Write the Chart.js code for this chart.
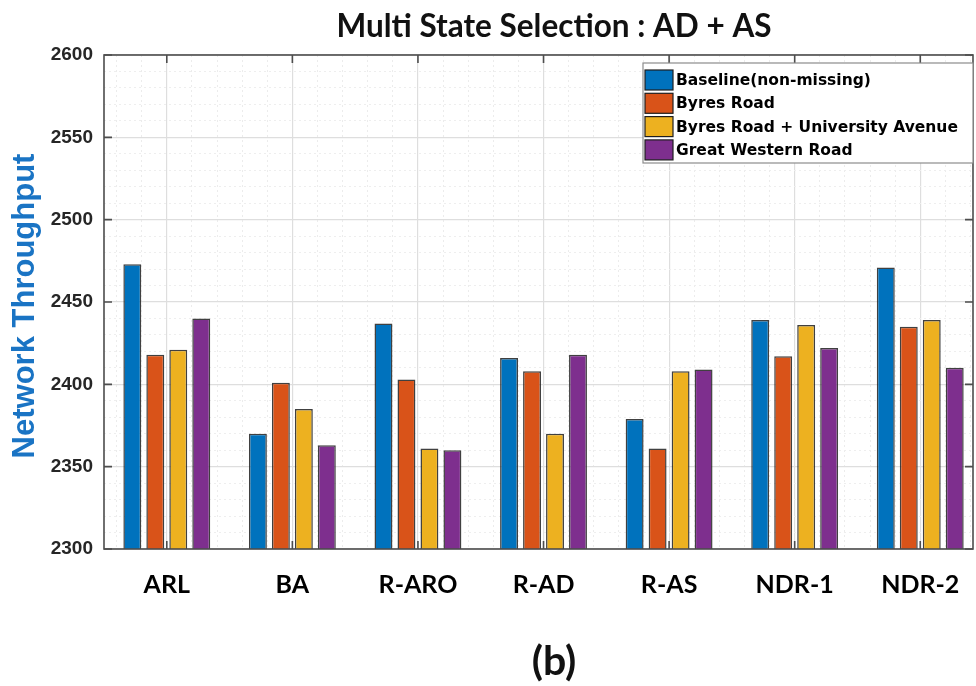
<!DOCTYPE html>
<html>
<head>
<meta charset="utf-8">
<script src="https://cdn.jsdelivr.net/npm/chart.js@4.4.1/dist/chart.umd.min.js"></script>
<style>
  html, body { margin: 0; padding: 0; background: #ffffff; }
  #wrap { width: 976px; height: 686px; position: relative; }
</style>
</head>
<body>
<div id="wrap"><canvas id="chart" width="976" height="686"></canvas></div>
<script>
// Network throughput per method, one array per scenario
const categories = ['ARL', 'BA', 'R-ARO', 'R-AD', 'R-AS', 'NDR-1', 'NDR-2'];
const seriesNames = ['Baseline(non-missing)', 'Byres Road', 'Byres Road + University Avenue', 'Great Western Road'];
const baseline        = [2473, 2370, 2437, 2416, 2379, 2439, 2471];
const byresRoad       = [2418, 2401, 2403, 2408, 2361, 2417, 2435];
const byresUniversity = [2421, 2385, 2361, 2370, 2408, 2436, 2439];
const greatWestern    = [2440, 2363, 2360, 2418, 2409, 2422, 2410];
const yTickLabels = [2300, 2350, 2400, 2450, 2500, 2550, 2600];

const titleText = 'Multi State Selection : AD + AS';
const yTitleText = 'Network Throughput';
const panelText = '(b)';

const seriesColors = ['#0072BD', '#D95319', '#EDB120', '#7E2F8E'];
const yMin = yTickLabels[0], yMax = yTickLabels[yTickLabels.length - 1];
const xMin = 0.5, xMax = 7.42;

const seriesValues = [baseline, byresRoad, byresUniversity, greatWestern];
const datasets = seriesValues.map((vals, s) => ({
  label: seriesNames[s],
  data: vals.map((v, i) => ({ x: i + 1, y: v })),
  backgroundColor: seriesColors[s],
  borderColor: 'rgba(30,30,30,0.85)',
  borderWidth: 1.5,
  borderSkipped: false,
  categoryPercentage: 0.732,
  barPercentage: 0.78
}));

const isMajorY = v => Math.round(v) % 50 === 0;

// keep the plot box flush with the canvas edges chosen by the layout padding
function noEdgePadding(scale) {
  scale.paddingLeft = 0;
  scale.paddingRight = 0;
}

// Frame, inward tick marks, legend box and the free-standing texts
const decorations = {
  id: 'decorations',
  afterDatasetsDraw(chart) {
    const { ctx, chartArea: a, scales } = chart;
    ctx.save();
    // axes box
    ctx.strokeStyle = '#4d4d4d';
    ctx.lineWidth = 1.6;
    ctx.strokeRect(a.left, a.top, a.right - a.left, a.bottom - a.top);
    // inward ticks
    ctx.beginPath();
    yTickLabels.forEach(v => {
      const y = scales.y.getPixelForValue(v);
      ctx.moveTo(a.left, y); ctx.lineTo(a.left + 8, y);
      ctx.moveTo(a.right, y); ctx.lineTo(a.right - 8, y);
    });
    categories.forEach((c, i) => {
      const x = scales.x.getPixelForValue(i + 1);
      ctx.moveTo(x, a.top); ctx.lineTo(x, a.top + 8);
      ctx.moveTo(x, a.bottom); ctx.lineTo(x, a.bottom - 8);
    });
    ctx.stroke();

    // legend
    const lw = 330, lh = 100;
    const lx = a.right - lw, ly = a.top + 8;
    ctx.fillStyle = '#ffffff';
    ctx.fillRect(lx, ly, lw, lh);
    ctx.strokeStyle = '#8c8c8c';
    ctx.lineWidth = 1.2;
    ctx.strokeRect(lx, ly, lw, lh);
    ctx.font = 'bold 15.5px "DejaVu Sans", sans-serif';
    ctx.textBaseline = 'middle';
    ctx.textAlign = 'left';
    chart.data.datasets.forEach((ds, i) => {
      const cy = ly + 17 + i * 23.3;
      ctx.fillStyle = ds.backgroundColor;
      ctx.fillRect(lx + 2, cy - 10, 28, 20);
      ctx.strokeStyle = '#1e1e1e';
      ctx.lineWidth = 1.2;
      ctx.strokeRect(lx + 2, cy - 10, 28, 20);
      ctx.fillStyle = '#000000';
      ctx.fillText(ds.label, lx + 33, cy + 1);
    });

    // title
    ctx.fillStyle = '#111111';
    ctx.textAlign = 'center';
    ctx.textBaseline = 'alphabetic';
    ctx.font = 'bold 31.5px Lato, "Open Sans", sans-serif';
    ctx.fillText(titleText, 554, 37);

    // panel tag
    ctx.font = 'bold 41px Lato, "Open Sans", sans-serif';
    ctx.textBaseline = 'middle';
    ctx.fillText(panelText, 554, 662);

    // y axis title
    ctx.save();
    ctx.translate(25, 306);
    ctx.rotate(-Math.PI / 2);
    ctx.fillStyle = '#1a74c4';
    ctx.font = 'bold 31px "Liberation Sans", Arial, sans-serif';
    ctx.textAlign = 'center';
    ctx.textBaseline = 'middle';
    ctx.fillText(yTitleText, 0, 0);
    ctx.restore();

    ctx.restore();
  }
};

new Chart(document.getElementById('chart'), {
  type: 'bar',
  data: { datasets },
  plugins: [decorations],
  options: {
    responsive: false,
    animation: false,
    layout: { padding: { top: 55, right: 3, left: 0, bottom: 0 } },
    plugins: {
      legend: { display: false },
      title: { display: false },
      tooltip: { enabled: false }
    },
    scales: {
      x: {
        type: 'linear',
        position: 'bottom',
        offset: false,
        min: xMin,
        max: xMax,
        afterBuildTicks(scale) {
          scale.ticks = categories.map((c, i) => ({ value: i + 1 }));
        },
        afterFit(scale) { scale.height = 137; noEdgePadding(scale); },
        ticks: {
          autoSkip: false,
          maxRotation: 0,
          padding: 21,
          color: '#000000',
          font: { family: 'Lato, "Open Sans", sans-serif', size: 25, weight: 'bold' },
          callback: (v) => categories[Math.round(v) - 1] || ''
        },
        grid: { offset: false, color: '#dedede', lineWidth: 1.2, drawTicks: false },
        border: { display: false }
      },
      xMinor: {
        type: 'linear',
        position: 'bottom',
        offset: false,
        min: xMin,
        max: xMax,
        afterBuildTicks(scale) {
          const t = [];
          for (let k = 3; k <= 37; k++) if (k % 5 !== 0) t.push({ value: k / 5 });
          scale.ticks = t;
        },
        afterFit(scale) { scale.height = 0; noEdgePadding(scale); },
        ticks: { display: false },
        grid: { offset: false, color: '#ececec', lineWidth: 1, drawTicks: false },
        border: { display: false, dash: [2, 3] }
      },
      y: {
        type: 'linear',
        min: yMin,
        max: yMax,
        afterBuildTicks(scale) {
          const t = [];
          for (let v = yMin; v <= yMax; v += 10) t.push({ value: v });
          scale.ticks = t;
        },
        afterFit(scale) { scale.width = 104; scale.paddingTop = 0; scale.paddingBottom = 0; },
        ticks: {
          autoSkip: false,
          padding: 11,
          color: '#262626',
          font: { family: '"Liberation Sans", Arial, sans-serif', size: 19, weight: 'bold' },
          callback: (v) => (yTickLabels.includes(v) ? String(v) : '')
        },
        grid: {
          drawTicks: false,
          color: (c) => (isMajorY(c.tick.value) ? '#dedede' : '#eeeeee'),
          lineWidth: (c) => (isMajorY(c.tick.value) ? 1.2 : 1)
        },
        border: {
          display: false,
          dash: (c) => (isMajorY(c.tick.value) ? [] : [2, 3])
        }
      }
    }
  }
});
</script>
</body>
</html>
